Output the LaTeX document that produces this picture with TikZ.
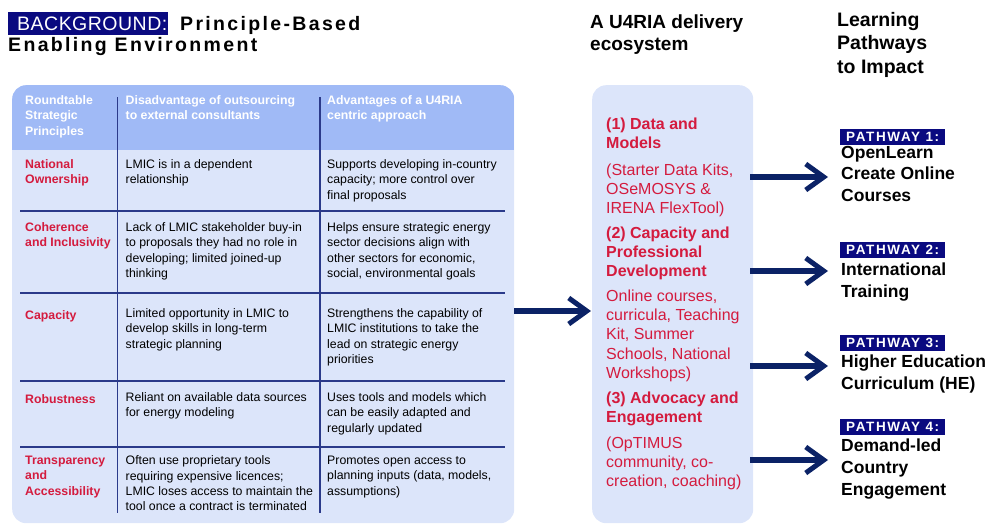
\documentclass[tikz,border=0pt]{standalone}
\usepackage{fontspec}
\setmainfont{Liberation Sans}
\newfontfamily\lsfont[LetterSpace=12]{Liberation Sans}
\newfontfamily\bgfont[LetterSpace=2.5]{Liberation Sans}
\newfontfamily\lspfont[LetterSpace=12]{Liberation Sans}
\usetikzlibrary{arrows.meta}
\definecolor{navy}{HTML}{0A0A80}
\definecolor{arrowblue}{HTML}{0B2266}
\definecolor{hdrblue}{HTML}{A0BAF6}
\definecolor{bodyblue}{HTML}{DCE5FA}
\definecolor{linecol}{HTML}{2B3A8A}
\definecolor{redtxt}{HTML}{D41B3E}
\tikzset{
  txt/.style={anchor=north west, inner sep=0pt, align=left, execute at begin node=\strut},
  tabcell/.style={txt, font=\fontsize{12.3}{15.3}\selectfont},
  tabhead/.style={tabcell, font=\fontsize{12.3}{15.3}\selectfont\bfseries, text=white},
  tablabel/.style={tabcell, font=\fontsize{12.3}{15.3}\selectfont\bfseries, text=redtxt},
  ecohead/.style={txt, font=\fontsize{16}{19.3}\selectfont\bfseries, text=redtxt},
  ecotext/.style={txt, font=\fontsize{16}{19.3}\selectfont, text=redtxt},
  pathtext/.style={txt, font=\fontsize{17.5}{21.7}\selectfont\bfseries},
  pathbox/.style={anchor=west, fill=navy, text=white, inner sep=0pt, minimum width=105pt, minimum height=16pt, font=\lspfont\fontsize{13.5}{15}\selectfont\bfseries},
  panel/.style={anchor=north west, fill=bodyblue, rounded corners=14pt, inner sep=0pt},
  grid/.style={draw=linecol, line width=1.1pt},
  arr/.style={draw=arrowblue, line width=6pt, -{Straight Barb[length=18pt,width=26pt,line width=5pt]}}
}
\begin{document}
\begin{tikzpicture}[x=1pt,y=-1pt]
\useasboundingbox (0,0) rectangle (993,525);

% ---- titles
\node[anchor=west, fill=navy, text=white, inner sep=0pt, minimum height=23pt, text width=160pt, align=left,
      font=\bgfont\fontsize{19.5}{22}\selectfont] (bg) at (8,23.5) {\hspace*{9pt}BACKGROUND:};
\node[anchor=base west, inner sep=0pt, font=\lsfont\fontsize{19.5}{22}\selectfont\bfseries] (t1) at (180,30) {Principle-Based};
\node[anchor=base west, inner sep=0pt, font=\lsfont\fontsize{19.5}{22}\selectfont\bfseries] (t2) at (8,51) {Enabling Environment};
\node[txt, font=\fontsize{19}{22}\selectfont\bfseries] (eh) at (590,14.6) {A U4RIA delivery\\ecosystem};
\node[txt, font=\fontsize{19.5}{23.7}\selectfont\bfseries] (lh) at (837,11.9) {Learning\\Pathways\\to Impact};

% ---- table panel
\node[panel, minimum width=502pt, minimum height=438pt,
      path picture={\fill[hdrblue, sharp corners] (path picture bounding box.north west) rectangle ([yshift=-65pt]path picture bounding box.north east);}]
      (table) at (12,85) {};
\draw[grid] (117.5,97) -- (117.5,513);
\draw[grid] (320,97) -- (320,513);
\foreach \yy in {211,293,381,447} \draw[grid] (20,\yy) -- (505,\yy);

% header
\node[tabhead] (h1) at (25,95.3) {Roundtable\\Strategic\\Principles};
\node[tabhead] (h2) at (125.5,95.3) {Disadvantage of outsourcing\\to external consultants};
\node[tabhead] (h3) at (327,95.3) {Advantages of a U4RIA\\centric approach};
% row 1
\node[tablabel] (r1a) at (25,159.3) {National\\Ownership};
\node[tabcell] (r1b) at (125.5,159.3) {LMIC is in a dependent\\relationship};
\node[tabcell] (r1c) at (327,159.3) {Supports developing in-country\\capacity; more control over\\final proposals};
% row 2
\node[tablabel] (r2a) at (25,222.3) {Coherence\\and Inclusivity};
\node[tabcell] (r2b) at (125.5,222.3) {Lack of LMIC stakeholder buy-in\\to proposals they had no role in\\developing; limited joined-up\\thinking};
\node[tabcell] (r2c) at (327,222.3) {Helps ensure strategic energy\\sector decisions align with\\other sectors for economic,\\social, environmental goals};
% row 3
\node[tablabel] (r3a) at (25,308.3) {Capacity};
\node[tabcell] (r3b) at (125.5,308.3) {Limited opportunity in LMIC to\\develop skills in long-term\\strategic planning};
\node[tabcell] (r3c) at (327,308.3) {Strengthens the capability of\\LMIC institutions to take the\\lead on strategic energy\\priorities};
% row 4
\node[tablabel] (r4a) at (25,392.3) {Robustness};
\node[tabcell] (r4b) at (125.5,392.3) {Reliant on available data sources\\for energy modeling};
\node[tabcell] (r4c) at (327,392.3) {Uses tools and models which\\can be easily adapted and\\regularly updated};
% row 5
\node[tablabel] (r5a) at (25,455.8) {Transparency\\and\\Accessibility};
\node[tabcell] (r5b) at (125.5,455.8) {Often use proprietary tools\\requiring expensive licences;\\LMIC loses access to maintain the\\tool once a contract is terminated};
\node[tabcell] (r5c) at (327,455.8) {Promotes open access to\\planning inputs (data, models,\\assumptions)};

% ---- ecosystem panel
\node[panel, minimum width=161pt, minimum height=438pt] (eco) at (592,85) {};
\node[ecohead] (m1) at (606,117.5) {(1) Data and\\Models};
\node[ecotext] (m1b) at (606,163.5) {(Starter Data Kits,\\OSeMOSYS \&\\IRENA FlexTool)};
\node[ecohead] (m2) at (606,226.5) {(2) Capacity and\\Professional\\Development};
\node[ecotext] (m2b) at (606,289.5) {Online courses,\\curricula, Teaching\\Kit, Summer\\Schools, National\\Workshops)};
\node[ecohead] (m3) at (606,391.5) {(3) Advocacy and\\Engagement};
\node[ecotext] (m3b) at (606,436.5) {(OpTIMUS\\community, co-\\creation, coaching)};

% ---- pathways
\node[pathbox] (p1) at (840,136.5) {PATHWAY 1:};
\node[pathtext] (p1t) at (841,145.8) {OpenLearn\\Create Online\\Courses};
\node[pathbox] (p2) at (840,250) {PATHWAY 2:};
\node[pathtext] (p2t) at (841,262.8) {International\\Training};
\node[pathbox] (p3) at (840,343) {PATHWAY 3:};
\node[pathtext] (p3t) at (841,354.8) {Higher Education\\Curriculum (HE)};
\node[pathbox] (p4) at (840,427) {PATHWAY 4:};
\node[pathtext] (p4t) at (841,438.8) {Demand-led\\Country\\Engagement};

% ---- connectors
\coordinate (bigB) at (591,311);
\coordinate (e1) at (828,177);
\coordinate (e2) at (828,271);
\coordinate (e3) at (828,366);
\coordinate (e4) at (828,460);
\draw[arr] (table.east |- bigB) -- (bigB);
\draw[arr] ([xshift=-3pt]eco.east |- e1) -- (e1);
\draw[arr] ([xshift=-3pt]eco.east |- e2) -- (e2);
\draw[arr] ([xshift=-3pt]eco.east |- e3) -- (e3);
\draw[arr] ([xshift=-3pt]eco.east |- e4) -- (e4);
\end{tikzpicture}
\end{document}
